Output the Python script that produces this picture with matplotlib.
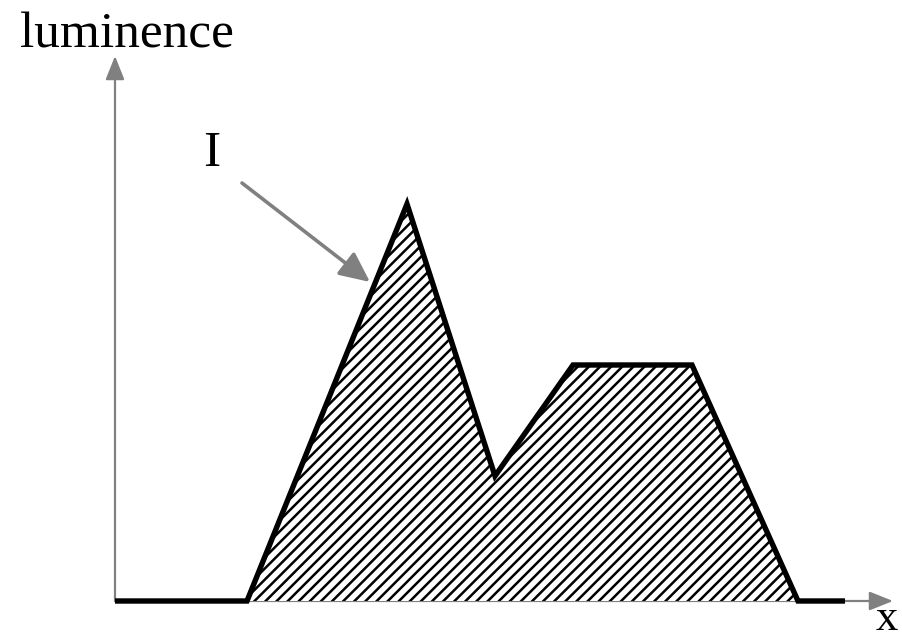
#!/usr/bin/env python3
"""
Schematic luminance profile: hatched area under a piecewise-linear curve,
with arrowed axes and an "I" annotation.
"""

import matplotlib

matplotlib.use("Agg")
import matplotlib.pyplot as plt

plt.rcParams["font.family"] = ["Liberation Serif", "DejaVu Serif"]
plt.rcParams["hatch.linewidth"] = 1.8

# profile (arbitrary units, origin at the axis crossing)
profile_x = [0.0, 13.2, 29.2, 38.0, 45.8, 57.7, 68.3, 73.0]
profile_y = [0.0, 0.0, 39.7, 12.5, 23.6, 23.6, 0.0, 0.0]

# axis arrow ends
x_axis_end = 77.8
y_axis_end = 54.5

# annotation arrow for "I" (start, tip)
label_arrow_start = (12.7, 41.8)
label_arrow_tip = (25.5, 31.9)

y_label = "luminence"
x_label = "x"
area_label = "I"

AXIS_GRAY = "#808080"
FONT_SIZE = 37

W, H, DPI = 902, 639, 100
fig = plt.figure(figsize=(W / DPI, H / DPI), dpi=DPI)
ax = fig.add_axes([0, 0, 1, 1])
ax.set_xlim(-11.5, 78.7)
ax.set_ylim(-3.8, 60.1)
ax.axis("off")

# gray axes with filled heads
axis_style = "-|>,head_length=1.45,head_width=0.58"
for end in [(x_axis_end, 0.0), (0.0, y_axis_end)]:
    ax.annotate(
        "",
        xy=end,
        xytext=(0.0, 0.0),
        arrowprops=dict(
            arrowstyle=axis_style,
            color=AXIS_GRAY,
            lw=1.6,
            shrinkA=0,
            shrinkB=0,
            mutation_scale=10,
        ),
        zorder=1,
    )

# hatched area under the profile
ax.fill(
    profile_x,
    profile_y,
    facecolor="white",
    edgecolor="black",
    hatch="///",
    linewidth=0,
    zorder=2,
)

# profile outline
ax.plot(
    profile_x,
    profile_y,
    color="black",
    linewidth=3.9,
    solid_joinstyle="miter",
    solid_capstyle="butt",
    zorder=3,
)

# "I" pointer
ax.annotate(
    "",
    xy=label_arrow_tip,
    xytext=label_arrow_start,
    arrowprops=dict(
        arrowstyle="-|>,head_length=1.84,head_width=0.86",
        color=AXIS_GRAY,
        lw=2.6,
        shrinkA=0,
        shrinkB=0,
        mutation_scale=10,
    ),
    zorder=4,
)

fig.text(20 / W, 1 - 47 / H, y_label, fontsize=FONT_SIZE, ha="left", va="baseline")
fig.text(211.5 / W, 1 - 166 / H, area_label, fontsize=FONT_SIZE, ha="center", va="baseline")
fig.text(887 / W, 1 - 639 / H, x_label, fontsize=32, ha="center", va="bottom")

fig.savefig("out.png", dpi=DPI)
plt.close(fig)
